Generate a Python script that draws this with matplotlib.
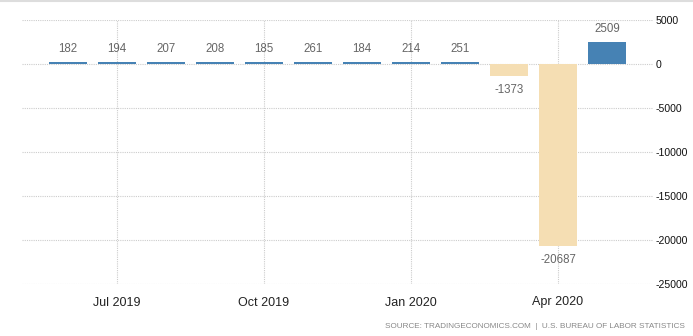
import matplotlib
matplotlib.use("Agg")
import matplotlib.pyplot as plt
from matplotlib.lines import Line2D

# Monthly change in US non-farm payrolls (thousands), Jun 2019 - May 2020
months = ["Jun 2019", "Jul 2019", "Aug 2019", "Sep 2019", "Oct 2019", "Nov 2019",
          "Dec 2019", "Jan 2020", "Feb 2020", "Mar 2020", "Apr 2020", "May 2020"]
values = [182, 194, 207, 208, 185, 261, 184, 214, 251, -1373, -20687, 2509]
tick_labels = ["Jul 2019", "Oct 2019", "Jan 2020", "Apr 2020"]
y_ticks = [5000, 0, -5000, -10000, -15000, -20000, -25000]

plt.rcParams["font.family"] = ["Liberation Sans", "DejaVu Sans"]

fig = plt.figure(figsize=(6.93, 3.36), dpi=100)
ax = fig.add_axes([22 / 693, 52 / 336, 631 / 693, 264 / 336])

x = list(range(len(values)))
colors = ["#4682b4" if v >= 0 else "#f5deb3" for v in values]
ax.bar(x, values, width=0.76, color=colors, zorder=3)

for xi, v in zip(x, values):
    if v >= 0:
        ax.annotate(f"{v}", (xi, v), xytext=(0, 5), textcoords="offset points",
                    ha="center", va="bottom", fontsize=8.3, color="#666666")
    else:
        ax.annotate(f"{v}", (xi, v), xytext=(0, -6), textcoords="offset points",
                    ha="center", va="top", fontsize=8.3, color="#666666")

ax.set_xlim(-0.94, 11.94)
ax.set_ylim(-25000, 5000)

tick_pos = [months.index(t) for t in tick_labels]
ax.set_xticks(tick_pos)
ax.set_xticklabels(tick_labels, fontsize=9, color="#222222")
ax.set_yticks(y_ticks)
ax.set_yticklabels([str(t) for t in y_ticks], fontsize=7.6, color="#111111")
ax.yaxis.tick_right()
ax.tick_params(axis="both", length=0)
ax.tick_params(axis="y", pad=2)
ax.tick_params(axis="x", pad=9)

ax.grid(True, which="major", color="#cccccc", linestyle=(0, (1, 1)), linewidth=0.8, zorder=0)
for s in ax.spines.values():
    s.set_visible(False)

# thin border line along the top of the figure
fig.add_artist(Line2D([0, 1], [0.997, 0.997], transform=fig.transFigure,
                      color="#dddddd", linewidth=1.5))

fig.text(685 / 693, 1 - 326 / 336, "SOURCE: TRADINGECONOMICS.COM  |  U.S. BUREAU OF LABOR STATISTICS",
         ha="right", va="center", fontsize=5.9, color="#888888")

fig.savefig("out.png", dpi=100, facecolor="white")
